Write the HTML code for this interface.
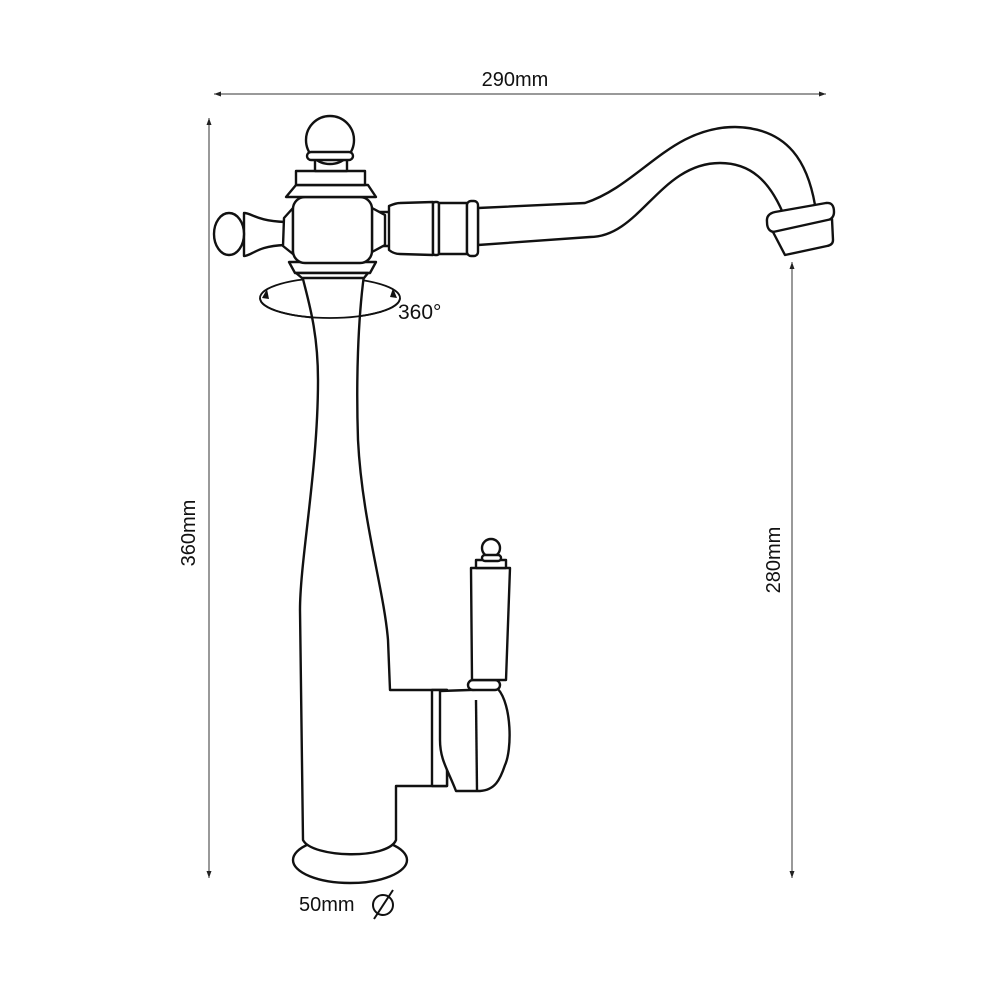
<!DOCTYPE html>
<html><head><style>body{margin:0;background:#fff}svg{display:block}text{font-family:"Liberation Sans",sans-serif;fill:#111}</style></head>
<body>
<svg width="1000" height="1000" viewBox="0 0 1000 1000" xmlns="http://www.w3.org/2000/svg">
<defs>
<marker id="a" markerWidth="8" markerHeight="8" refX="7" refY="4" orient="auto-start-reverse" markerUnits="userSpaceOnUse"><path d="M0,1.5 L7,4 L0,6.5 Z" fill="#222"/></marker>
</defs>
<g stroke="#333" stroke-width="1" fill="none">
<line x1="214" y1="94" x2="826" y2="94" marker-start="url(#a)" marker-end="url(#a)"/>
<line x1="209" y1="118" x2="209" y2="878" marker-start="url(#a)" marker-end="url(#a)"/>
<line x1="792" y1="262" x2="792" y2="878" marker-start="url(#a)" marker-end="url(#a)"/>
<line x1="302" y1="737" x2="510" y2="737" marker-start="url(#a)" marker-end="url(#a)"/>
</g>
<text x="515" y="86" font-size="20" text-anchor="middle">290mm</text>
<text transform="translate(195,533) rotate(-90)" font-size="20" text-anchor="middle">360mm</text>
<text transform="translate(780,560) rotate(-90)" font-size="20" text-anchor="middle">280mm</text>
<text x="370" y="728" font-size="20" text-anchor="middle">100mm</text>
<text x="299" y="911" font-size="20">50mm</text>
<text x="398" y="319" font-size="21">360°</text>
<ellipse cx="330" cy="298" rx="70" ry="20" fill="none" stroke="#111" stroke-width="1.8"/>
<g stroke="#111" stroke-width="2.4" fill="#fff" stroke-linejoin="round">
<!-- spout -->
<path d="M478,208 L585,203 C640,185 670,127 735,127 C790,128 808,165 815,205 L785,218 C770,180 750,163 720,163 C660,163 640,237 590,237 L478,245 Z"/>
<path d="M767,222 Q766,214 775,212 L826,203 Q834,202 834,212 Q834,219 826,221 L777,232 Q767,233 767,222 Z"/>
<path d="M773,232 L832,219 L833,240 Q833,245 827,246 L785,255 Z"/>
<!-- base -->
<ellipse cx="350" cy="860" rx="57" ry="23"/>
<!-- body -->
<path d="M302,275 C308,300 318,330 318,380 C318,470 300,560 300,610 L303,840 C312,858 388,860 396,840 L396,786 L447,786 L447,690 L390,690 L388,640 C384,590 362,520 358,440 C356,380 358,320 364,275 Z"/>
<path d="M432,690 L447,690 L447,786 L432,786 Z"/>
<!-- lever housing -->
<path d="M440,691 L498,689 C512,705 512,750 505,765 C500,780 495,790 480,791 L456,791 C448,770 440,760 440,740 Z"/>
<line x1="476" y1="700" x2="477" y2="790"/>
<!-- lever -->
<rect x="468" y="680" width="32" height="10" rx="5"/>
<path d="M471,568 L510,568 L506,680 L472,680 Z"/>
<path d="M476,568 L476,560 L506,560 L506,568 Z"/>
<circle cx="491" cy="548" r="9"/>
<rect x="482" y="555" width="19" height="6" rx="3"/>
<!-- lower flare -->
<path d="M289,262 L376,262 L370,273 L295,273 Z"/>
<path d="M296,273 L368,273 L364,278 L302,278 Z"/>
<!-- left handle -->
<path d="M244,213 C252,213 256,221 285,222 L285,245 C256,246 252,256 244,256 Z"/>
<ellipse cx="229" cy="234" rx="15" ry="21"/>
<path d="M293,208 L284,218 L283,246 L293,254 Z"/>
<!-- right handle -->
<rect x="371" y="212" width="20" height="34"/>
<path d="M372,208 L385,215 L385,245 L372,252 Z"/>
<path d="M389,206 Q396,203 400,203 L433,202 L433,255 L400,254 Q394,254 389,250 Z"/>
<rect x="433" y="202" width="6" height="53" rx="2"/>
<rect x="439" y="203" width="28" height="51"/>
<rect x="467" y="201" width="11" height="55" rx="4"/>
<!-- body centre -->
<rect x="293" y="197" width="79" height="66" rx="12"/>
<!-- top -->
<path d="M286,197 L376,197 L368,185 L296,185 Z"/>
<rect x="296" y="171" width="69" height="14"/>
<rect x="315" y="158" width="32" height="13"/>
<circle cx="330" cy="140" r="24"/>
<rect x="307" y="152" width="46" height="8" rx="4"/>
</g>
<path d="M260,298 A70,20 0 0 0 400,298" fill="none" stroke="#111" stroke-width="1.8"/>
<path d="M262,298 l5,-9 l2,10 z M397,298 l-4,-10 l-3,9 z" fill="#111"/>
<circle cx="383" cy="905" r="10" fill="none" stroke="#111" stroke-width="2"/>
<line x1="374" y1="919" x2="393" y2="890" stroke="#111" stroke-width="2"/>
</svg>
</body></html>
